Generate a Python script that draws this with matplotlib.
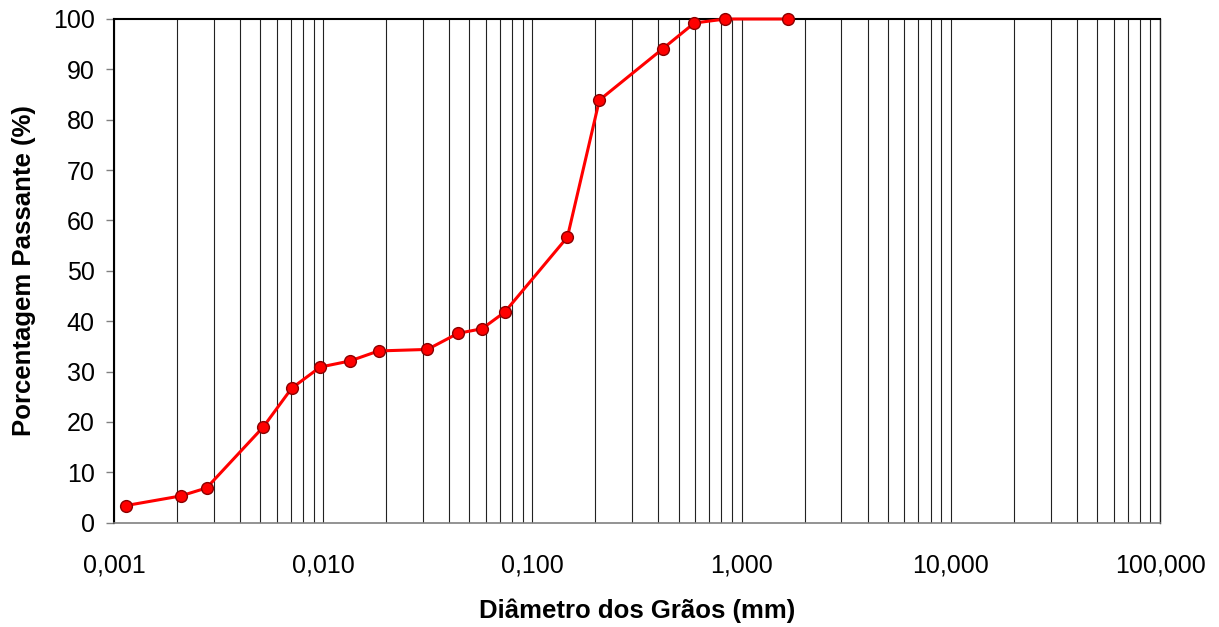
import matplotlib
matplotlib.use("Agg")
import matplotlib.pyplot as plt
from matplotlib.ticker import LogLocator, FuncFormatter, NullFormatter

# dados da curva granulométrica
diametros = [0.00114, 0.00208, 0.00277, 0.00517, 0.00707, 0.00968, 0.0134, 0.0184,
             0.0315, 0.0441, 0.0574, 0.0737, 0.147, 0.209, 0.420, 0.594, 0.836, 1.667]
passante = [3.4, 5.3, 6.9, 19.0, 26.7, 30.9, 32.1, 34.1,
            34.4, 37.6, 38.5, 41.8, 56.7, 83.9, 94.1, 99.2, 100.0, 100.0]
y_ticks = list(range(0, 101, 10))
x_lim = (0.001, 100)

plt.rcParams['font.family'] = ['Liberation Sans', 'DejaVu Sans']

fig = plt.figure(figsize=(12.19, 6.27), dpi=100)
ax = fig.add_axes([114 / 1219, 1 - 522.7 / 627, (1160 - 114) / 1219, (522.7 - 19) / 627])

ax.set_xscale('log')
ax.set_xlim(*x_lim)
ax.set_ylim(0, 100)

ax.plot(diametros, passante, color='#ff0000', linewidth=2.2, marker='o', markersize=8.5,
        markerfacecolor='#ff0000', markeredgecolor='#8b0000', markeredgewidth=1.0, zorder=3,
        clip_on=False)

ax.xaxis.set_major_locator(LogLocator(base=10, numticks=10))
ax.xaxis.set_minor_locator(LogLocator(base=10, subs=range(2, 10), numticks=100))
ax.xaxis.set_major_formatter(FuncFormatter(lambda v, p: "{:.3f}".format(v).replace(".", ",")))
ax.xaxis.set_minor_formatter(NullFormatter())
ax.grid(which='both', axis='x', color='#222222', linewidth=0.8)
ax.tick_params(axis='x', which='both', length=0, labelsize=18, pad=22)

ax.set_yticks(y_ticks)
ax.tick_params(axis='y', which='major', direction='out', length=6, width=1, color='#808080',
               labelsize=18, pad=8)

for s in ['left', 'top']:
    ax.spines[s].set_color('black')
    ax.spines[s].set_linewidth(1.5)
ax.spines['bottom'].set_color('#808080')
ax.spines['bottom'].set_linewidth(1.2)
ax.spines['right'].set_color('#222222')
ax.spines['right'].set_linewidth(1.0)

ax.set_xlabel("Diâmetro dos Grãos (mm)", fontsize=18.5, fontweight='bold', labelpad=15)
ax.set_ylabel("Porcentagem Passante (%)", fontsize=18.5, fontweight='bold', labelpad=12)

fig.savefig("out.png", dpi=100)
